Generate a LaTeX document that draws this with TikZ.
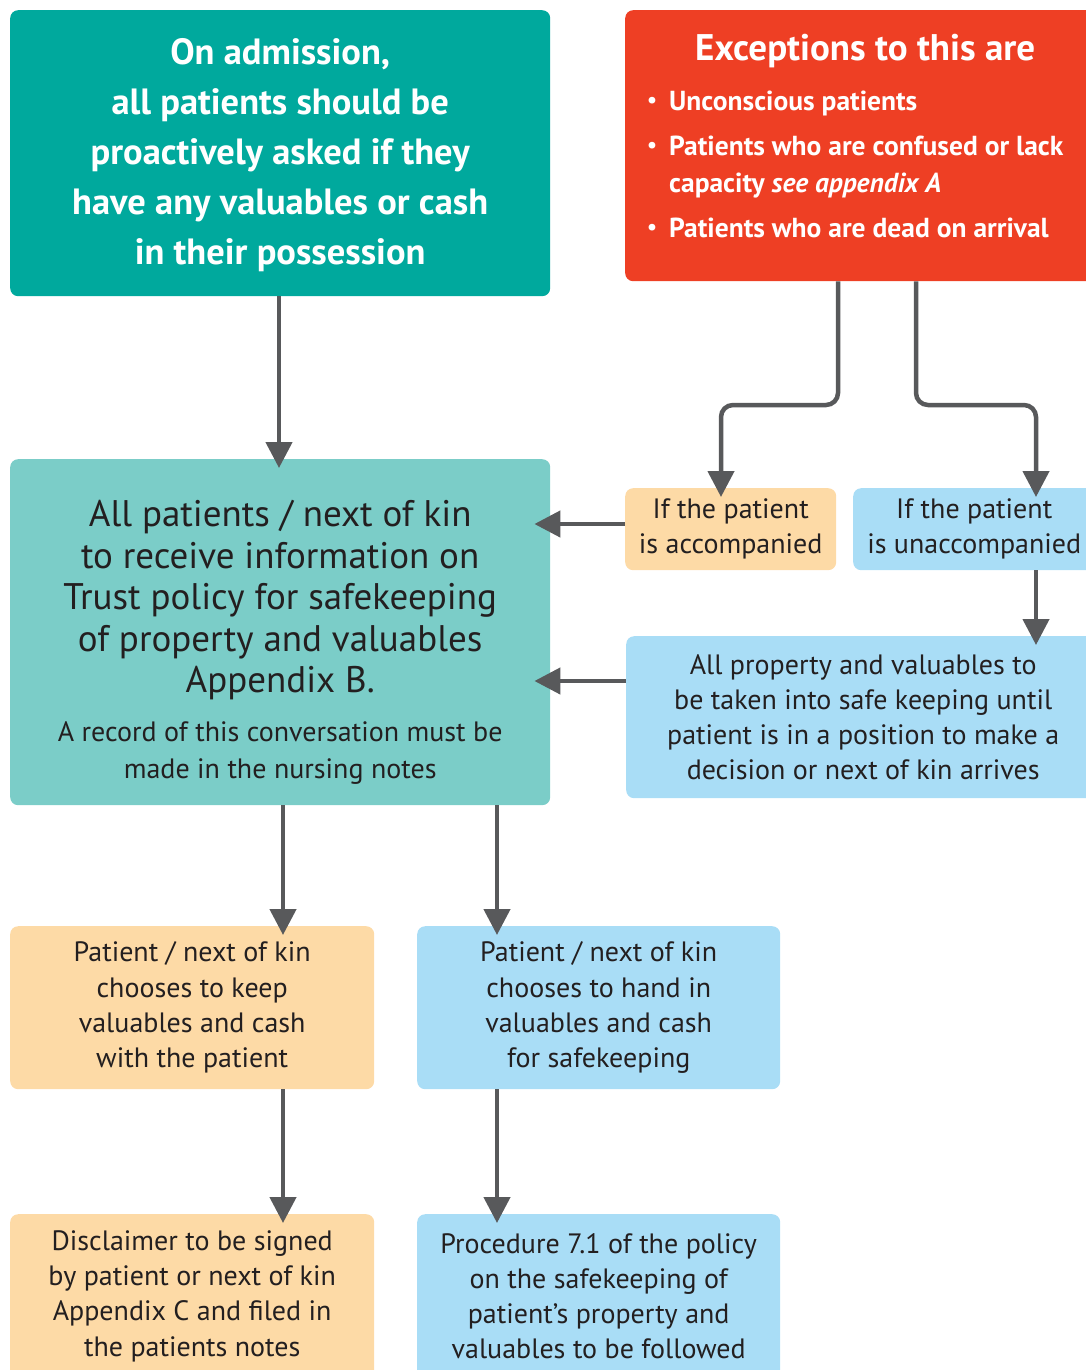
\documentclass[tikz,border=0pt]{standalone}
\usepackage{fontspec}
\setmainfont{PT Sans}
\usetikzlibrary{arrows.meta}
\definecolor{tealA}{HTML}{00A99D}
\definecolor{redA}{HTML}{EE3F24}
\definecolor{tealB}{HTML}{7BCDC8}
\definecolor{peach}{HTML}{FDDAA6}
\definecolor{skyB}{HTML}{A9DDF6}
\definecolor{arrowgray}{HTML}{58595B}
\definecolor{ink}{HTML}{231F20}
\newcommand\bitem[1]{\hangindent=24pt\hangafter=1\noindent\makebox[24pt][l]{\hspace*{2pt}\raisebox{0.12em}{\scalebox{0.8}{\textbullet}}}#1\par}
\begin{document}
\begin{tikzpicture}[x=1pt,y=-1pt,
  box/.style={rounded corners=8pt, inner sep=0pt, align=center, anchor=north west, text=ink},
  arr/.style={draw=arrowgray, line width=4.5pt, -{Triangle[width=26pt,length=26pt]}, shorten >=-9pt},
  harr/.style={arr, shorten >=-16pt},
  small/.style={font=\fontsize{28}{35.3}\selectfont}]
\useasboundingbox (0,0) rectangle (1086,1370);

\node[box, fill=tealA, text=white, minimum width=540pt, minimum height=286pt, text width=540pt, align=flush center,
  font=\fontsize{36.5}{50}\selectfont\bfseries] (top) at (10,10)
  {On admission,\\all patients should be\\proactively asked if they\\have any valuables or cash\\in their possession\par\vspace{-4pt}};

\node[box, fill=redA, text=white, minimum width=480pt, minimum height=271pt, align=flush left,
  text width=440pt] (red) at (625,10)
  {{\centering\fontsize{37}{40}\selectfont\bfseries Exceptions to this are\par}
   \vspace{5pt}
   {\fontsize{27.5}{37}\selectfont\bfseries\setlength{\parskip}{8pt}
   \bitem{Unconscious patients}
   \bitem{Patients who are confused or lack\break capacity \textit{see appendix A}}
   \bitem{Patients who are dead on arrival}}
   \vspace{19pt}};

\node[box, fill=tealB, minimum width=540pt, minimum height=346pt, text width=540pt, align=flush center,
  font=\fontsize{37}{41.5}\selectfont] (mid) at (10,459)
  {All patients / next of kin\\to receive information on\\Trust policy for safekeeping\\of property and valuables\\Appendix B.\par
   \vspace{12pt}
   {\fontsize{28}{37}\selectfont A record of this conversation must be\\made in the nursing notes\par}
   \vspace{-21pt}};

\node[box, fill=peach, small, minimum width=211pt, minimum height=82pt] (acc) at (625,488)
  {If the patient\\is accompanied};
\node[box, fill=skyB, small, minimum width=242pt, minimum height=82pt] (unacc) at (853,488)
  {If the patient\\is unaccompanied};
\node[box, fill=skyB, small, minimum width=474pt, minimum height=162pt] (allp) at (626,636)
  {All property and valuables to\\be taken into safe keeping until\\patient is in a position to make a\\decision or next of kin arrives};
\node[box, fill=peach, small, minimum width=364pt, minimum height=163pt] (keep) at (10,926)
  {Patient / next of kin\\chooses to keep\\valuables and cash\\with the patient};
\node[box, fill=skyB, small, minimum width=363pt, minimum height=163pt] (hand) at (417,926)
  {Patient / next of kin\\chooses to hand in\\valuables and cash\\for safekeeping};
\node[box, fill=peach, small, minimum width=364pt, minimum height=164pt] (disc) at (10,1214)
  {Disclaimer to be signed\\by patient or next of kin\\Appendix C and filed in\\the patients notes};
\node[box, fill=skyB, small, minimum width=363pt, minimum height=164pt] (proc) at (417,1214)
  {Procedure 7.1 of the policy\\on the safekeeping of\\patient’s property and\\valuables to be followed};

% connectors
\draw[arr] (top.south -| 279,0) -- (mid.north -| 279,0);
\draw[arr, rounded corners=12pt] (red.south -| 838,0) -- (838,405) -- (721,405) -- (acc.north -| 721,0);
\draw[arr, rounded corners=12pt] (red.south -| 916,0) -- (916,405) -- (1036,405) -- (unacc.north -| 1036,0);
\draw[arr] (unacc.south -| 1036,0) -- (allp.north -| 1036,0);
\draw[harr] (acc.west |- 0,524) -- (mid.east |- 0,524);
\draw[harr] (allp.west |- 0,681) -- (mid.east |- 0,681);
\draw[arr] (mid.south -| 283,0) -- (keep.north -| 283,0);
\draw[arr] (mid.south -| 497,0) -- (hand.north -| 497,0);
\draw[arr] (keep.south -| 283,0) -- (disc.north -| 283,0);
\draw[arr] (hand.south -| 497,0) -- (proc.north -| 497,0);
\end{tikzpicture}
\end{document}
